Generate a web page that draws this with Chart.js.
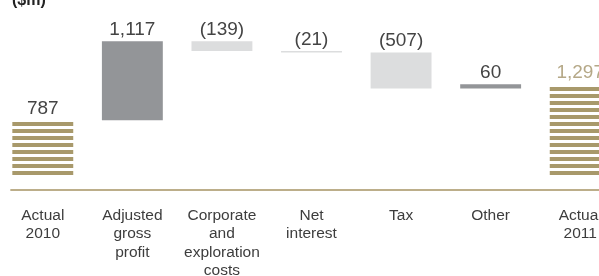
<!DOCTYPE html>
<html>
<head>
<meta charset="utf-8">
<script src="https://cdn.jsdelivr.net/npm/chart.js@4.4.1/dist/chart.umd.min.js"></script>
<style>
  html, body { margin: 0; padding: 0; background: #fff; overflow: hidden; width: 599px; height: 276px; }
  #wrap { position: absolute; left: -2px; top: 0; width: 627px; height: 280px; }
</style>
</head>
<body>
<div id="wrap"><canvas id="c"></canvas></div>
<script>
// ---- data ----
const categories = [
  ['Actual', '2010'],
  ['Adjusted', 'gross', 'profit'],
  ['Corporate', 'and', 'exploration', 'costs'],
  ['Net', 'interest'],
  ['Tax'],
  ['Other'],
  ['Actual', '2011']
];
const changes = [787, 1117, -139, -21, -507, 60, 1297];
const isTotal = [true, false, false, false, false, false, true];
const unitLabel = '($m)';

// ---- build floating ranges ----
const ranges = [];
let running = 0;
changes.forEach((v, i) => {
  if (isTotal[i]) { ranges.push([0, v]); running = v; }
  else { ranges.push([running, running + v]); running += v; }
});

function fmt(v) {
  const s = Math.abs(v).toLocaleString('en-US');
  return v < 0 ? '(' + s + ')' : s;
}

const TAN = '#a8996b';
let stripePattern = null, stripeKey = null;
function getStripes(chart) {
  const y0 = Math.round(chart.scales.y.getPixelForValue(0));
  if (stripePattern && stripeKey === y0) return stripePattern;
  const pc = document.createElement('canvas');
  pc.width = 4; pc.height = 7;
  const p = pc.getContext('2d');
  p.fillStyle = TAN;
  p.fillRect(0, 0, 4, 4);
  const pat = chart.ctx.createPattern(pc, 'repeat');
  pat.setTransform(new DOMMatrix().translate(0, y0 - 5));
  stripePattern = pat; stripeKey = y0;
  return pat;
}

const extras = {
  id: 'extras',
  afterDatasetsDraw(chart) {
    const ctx = chart.ctx;
    const meta = chart.getDatasetMeta(0);
    ctx.save();
    // baseline rule
    const first = meta.data[0];
    const yLine = chart.chartArea.bottom;
    ctx.strokeStyle = '#bcae8a';
    ctx.lineWidth = 2;
    ctx.beginPath();
    ctx.moveTo(first.x - first.width / 2 - 2, yLine);
    ctx.lineTo(chart.width, yLine);
    ctx.stroke();
    // value labels
    ctx.font = '19px "Liberation Sans", Arial, sans-serif';
    ctx.textAlign = 'center';
    ctx.textBaseline = 'alphabetic';
    meta.data.forEach((bar, i) => {
      const top = Math.min(bar.y, bar.base);
      ctx.fillStyle = (i === changes.length - 1) ? '#b5a887' : '#444';
      ctx.fillText(fmt(changes[i]), bar.x, top - 6);
    });
    // unit label
    ctx.fillStyle = '#222';
    ctx.font = 'bold 16px "Liberation Sans", Arial, sans-serif';
    ctx.textAlign = 'left';
    ctx.fillText(unitLabel, 14, 5);
    ctx.restore();
  }
};

new Chart(document.getElementById('c'), {
  type: 'bar',
  data: {
    labels: categories,
    datasets: [{
      data: ranges,
      backgroundColor: (c) => {
        const i = c.dataIndex;
        if (isTotal[i]) return getStripes(c.chart);
        return changes[i] >= 0 ? '#939598' : '#dcddde';
      },
      borderWidth: 0,
      categoryPercentage: 1,
      barPercentage: 0.68
    }]
  },
  options: {
    responsive: true,
    maintainAspectRatio: false,
    animation: false,
    layout: { padding: 0 },
    plugins: { legend: { display: false }, tooltip: { enabled: false } },
    scales: {
      x: {
        grid: { display: false, drawTicks: false },
        border: { display: false },
        afterFit: (scale) => { scale.height = 90; },
        ticks: {
          color: '#3d3d3d',
          padding: 16,
          maxRotation: 0,
          autoSkip: false,
          font: { family: '"Liberation Sans", Arial, sans-serif', size: 15.5, lineHeight: 1.2 }
        }
      },
      y: {
        display: false,
        min: -197.7,
        max: 2485
      }
    }
  },
  plugins: [extras]
});
</script>
</body>
</html>
